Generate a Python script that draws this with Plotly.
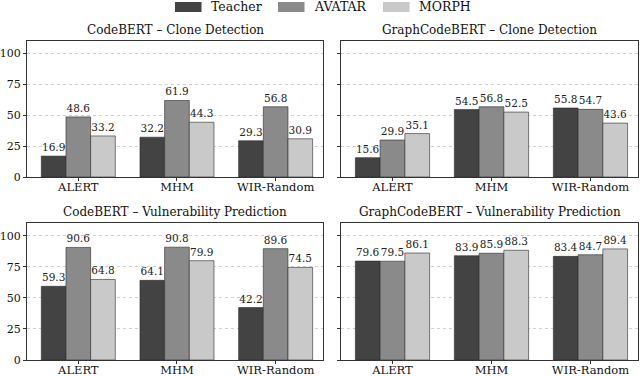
import plotly.graph_objects as go

categories = ["ALERT", "MHM", "WIR-Random"]
series_names = ["Teacher", "AVATAR", "MORPH"]

cb_clone = {"Teacher": [16.9, 32.2, 29.3], "AVATAR": [48.6, 61.9, 56.8], "MORPH": [33.2, 44.3, 30.9]}
gcb_clone = {"Teacher": [15.6, 54.5, 55.8], "AVATAR": [29.9, 56.8, 54.7], "MORPH": [35.1, 52.5, 43.6]}
cb_vuln = {"Teacher": [59.3, 64.1, 42.2], "AVATAR": [90.6, 90.8, 89.6], "MORPH": [64.8, 79.9, 74.5]}
gcb_vuln = {"Teacher": [79.6, 83.9, 83.4], "AVATAR": [79.5, 85.9, 84.7], "MORPH": [86.1, 88.3, 89.4]}

titles = ["CodeBERT – Clone Detection", "GraphCodeBERT – Clone Detection",
          "CodeBERT – Vulnerability Prediction", "GraphCodeBERT – Vulnerability Prediction"]
panels = [cb_clone, gcb_clone, cb_vuln, gcb_vuln]
y_ticks = [0, 25, 50, 75, 100]

colors = {"Teacher": "#434343", "AVATAR": "#8a8a8a", "MORPH": "#c9c9c9"}
FONT = "DejaVu Serif"

W, H = 640, 376
xdoms = [[27 / W, 323 / W], [341 / W, 638 / W]]
ydoms = [[(H - 177) / H, (H - 41) / H], [(H - 360) / H, (H - 223.3) / H]]

fig = go.Figure()
for i, data in enumerate(panels):
    r, c = divmod(i, 2)
    ax = "" if i == 0 else str(i + 1)
    for s in series_names:
        fig.add_trace(go.Bar(
            x=categories, y=data[s], name=s, showlegend=False,
            marker=dict(color=colors[s], line=dict(color="#2a2a2a", width=0.6)),
            text=[f"{v:.1f}" for v in data[s]], textposition="outside",
            textfont=dict(family=FONT, size=10.5, color="#222"),
            cliponaxis=False, hoverinfo="skip",
            xaxis="x" + ax, yaxis="y" + ax,
        ))
    fig.layout["xaxis" + ax] = dict(
        domain=xdoms[c], anchor="y" + ax, range=[-0.52, 2.48], automargin=False,
        showline=True, mirror=True, linecolor="#333", linewidth=1,
        ticks="outside", ticklen=3, tickcolor="#333", ticklabelstandoff=-4,
        tickfont=dict(family=FONT, size=11.5, color="#111"),
        showgrid=False,
    )
    fig.layout["yaxis" + ax] = dict(
        domain=ydoms[r], anchor="x" + ax, range=[0, 110], automargin=False,
        tickvals=y_ticks, showticklabels=(c == 0),
        showline=True, mirror=True, linecolor="#333", linewidth=1,
        ticks="outside", ticklen=3, tickcolor="#333",
        tickfont=dict(family=FONT, size=11, color="#111"),
        showgrid=True, gridcolor="#d0d0d0", griddash="dot", gridwidth=1,
        zeroline=False,
    )
    fig.add_annotation(
        text=titles[i], xref="paper", yref="paper",
        x=sum(xdoms[c]) / 2, y=ydoms[r][1], xanchor="center", yanchor="bottom", yshift=2,
        showarrow=False, font=dict(family=FONT, size=12, color="#111"),
    )

# custom legend (wide swatches like the reference)
legend_x = [175, 278, 383]
for s, lx in zip(series_names, legend_x):
    fig.add_shape(type="rect", xref="paper", yref="paper",
                  x0=lx / W, x1=(lx + 26.5) / W, y0=(H - 12) / H, y1=(H - 2) / H,
                  fillcolor=colors[s], line=dict(width=0))
    fig.add_annotation(text=s, xref="paper", yref="paper",
                       x=(lx + 34) / W, y=(H - 7) / H, xanchor="left", yanchor="middle",
                       showarrow=False, font=dict(family=FONT, size=12.5, color="#111"))

fig.update_layout(
    width=W, height=H, margin=dict(l=0, r=0, t=0, b=0),
    paper_bgcolor="white", plot_bgcolor="white",
    barmode="group", bargap=0.25, bargroupgap=0,
    showlegend=False, hovermode=False,
    font=dict(family=FONT),
)
fig.write_html("out.html", config={"displayModeBar": False},
               post_script="document.body.style.margin='0px';")
